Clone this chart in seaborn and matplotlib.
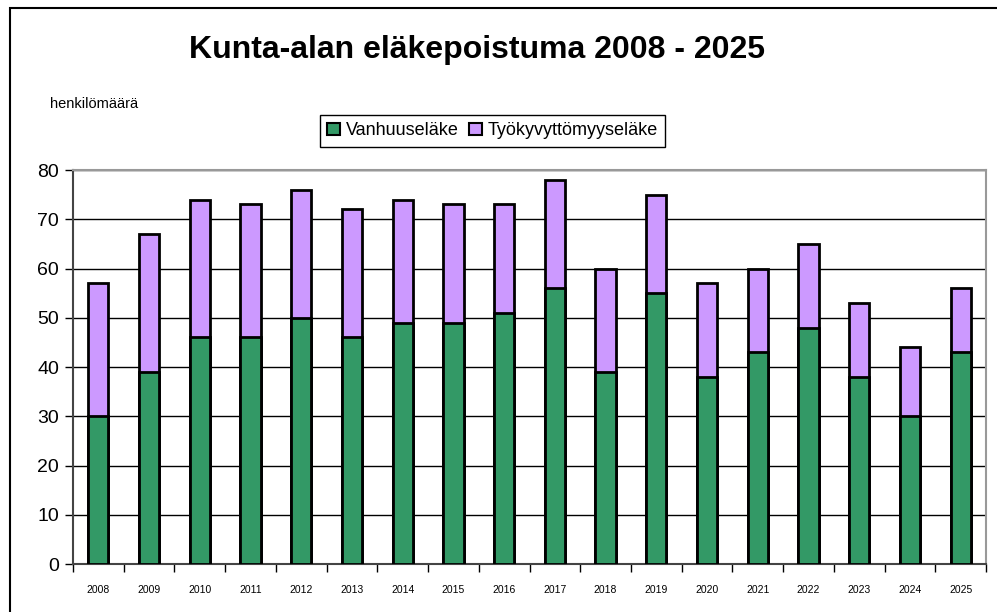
import pandas as pd
import matplotlib
matplotlib.use("Agg")
import matplotlib.pyplot as plt
import seaborn as sns
from matplotlib.patches import Patch, Rectangle

sns.set_style("white")
plt.rcParams['font.family'] = ['Liberation Sans', 'DejaVu Sans']
plt.rcParams.update({'text.color': 'black', 'xtick.color': 'black', 'ytick.color': 'black',
                     'axes.labelcolor': 'black'})

years = [str(y) for y in range(2008, 2026)]
vanhuus = [30, 39, 46, 46, 50, 46, 49, 49, 51, 56, 39, 55, 38, 43, 48, 38, 30, 43]
tyokyvyttomyys = [27, 28, 28, 27, 26, 26, 25, 24, 22, 22, 21, 20, 19, 17, 17, 15, 14, 13]

df = pd.DataFrame({"vuosi": years, "Vanhuuseläke": vanhuus,
                   "Työkyvyttömyyseläke": tyokyvyttomyys})
df["yhteensa"] = df["Vanhuuseläke"] + df["Työkyvyttömyyseläke"]

green = "#339966"
purple = "#CC99FF"

fig = plt.figure(figsize=(9.97, 6.12), dpi=100)
ax = fig.add_axes([0.0732, 0.0784, 0.9158, 0.6438])

# total first (purple), then green on top of it
sns.barplot(data=df, x="vuosi", y="yhteensa", color=purple, width=0.4,
            edgecolor="black", linewidth=2, saturation=1, ax=ax, zorder=3)
sns.barplot(data=df, x="vuosi", y="Vanhuuseläke", color=green, width=0.4,
            edgecolor="black", linewidth=2, saturation=1, ax=ax, zorder=4)

ax.set_ylim(0, 80)
ax.set_xlim(-0.5, len(years) - 0.5)
ax.set_yticks(range(0, 81, 10))
ax.yaxis.grid(True, color="black", linewidth=1)
ax.set_axisbelow(True)
ax.set_xlabel("")
ax.set_ylabel("")
ax.tick_params(axis="y", labelsize=14, length=6, width=1, direction="out", left=True, pad=4)
ax.tick_params(axis="x", labelsize=7.5, length=0, pad=15)
ax.set_xticks(range(len(years)))
ax.set_xticklabels(years)
# ticks between categories on x-axis
ax.set_xticks([i - 0.5 for i in range(len(years) + 1)], minor=True)
ax.tick_params(axis="x", which="minor", length=6, width=1, direction="out", bottom=True)

for side in ["left", "bottom"]:
    ax.spines[side].set_color("#444444")
    ax.spines[side].set_linewidth(1.5)
for side in ["top", "right"]:
    ax.spines[side].set_color("#999999")
    ax.spines[side].set_linewidth(1.5)

fig.text(0.478, 0.918, "Kunta-alan eläkepoistuma 2008 - 2025", ha="center", va="center",
         fontsize=23, fontweight="bold", color="black")
fig.text(0.05, 0.83, "henkilömäärä", ha="left", va="center", fontsize=10.5, color="black")

handles = [Patch(facecolor=green, edgecolor="black", linewidth=1.5, label="Vanhuuseläke"),
           Patch(facecolor=purple, edgecolor="black", linewidth=1.5, label="Työkyvyttömyyseläke")]
fig.legend(handles=handles, loc="center", bbox_to_anchor=(0.494, 0.786), ncol=2,
           fontsize=13, frameon=True, fancybox=False, edgecolor="black",
           handlelength=0.7, handleheight=0.7, handletextpad=0.3, columnspacing=0.6,
           borderpad=0.4, framealpha=1)

# outer frame
fig.patches.append(Rectangle((0.010, -0.01), 1.2, 0.997, transform=fig.transFigure,
                             fill=False, edgecolor="black", linewidth=1.5))

fig.savefig("out.png", dpi=100)
